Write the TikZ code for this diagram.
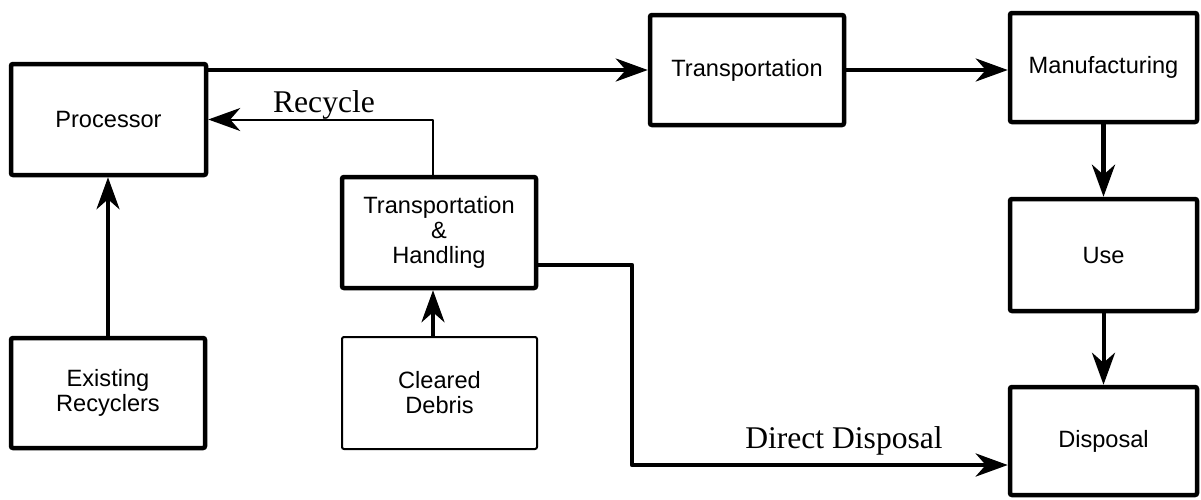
\documentclass[tikz,border=0pt]{standalone}
\usepackage{fontspec}
\setmainfont{Liberation Serif}
\setsansfont{Liberation Sans}
\usetikzlibrary{
  arrows.meta,
  positioning,
  calc
}

\begin{document}
\begin{tikzpicture}[
    x=0.5pt, y=-0.5pt,
    blk/.style={draw, line width=2.25pt, rounded corners=1pt, align=center,
                inner sep=0pt, minimum width=97pt, minimum height=55pt,
                font=\sffamily\fontsize{11.8}{12.5}\selectfont},
    lightblk/.style={blk, line width=1pt},
    colblk/.style={blk, minimum width=93.5pt},
    flow/.style={line width=2pt, line join=round,
                 -{Stealth[length=16pt, width=11.5pt, inset=5pt]}},
    heavyflow/.style={flow, line width=2.4pt},
    thinflow/.style={flow, line width=1pt},
    lbl/.style={font=\fontsize{15.8}{18}\selectfont, inner sep=0pt}
  ]
    \useasboundingbox (0,0) rectangle (1201,499);
    \node[blk, minimum width=97.5pt, minimum height=55.5pt] (proc) at (108.5,119.5) {Processor};
    \node[blk] (trans) at (747,70) {Transportation};
    \node[colblk, minimum height=54.5pt] (manu) at (1103.5,67.5) {Manufacturing};
    \node[colblk, minimum height=56pt] (use) at (1103.5,255) {Use};
    \node[colblk, minimum height=54pt] (disp) at (1103.5,441) {Disposal};
    \node[blk, minimum height=55.5pt] (th) at (439,232.5) {Transportation\\ \&\\ Handling};
    \node[blk] (exist) at (108,393) {Existing\\ Recyclers};
    \node[lightblk, minimum width=97.5pt, minimum height=56pt] (debris) at (439.5,393)
      {Cleared\\ Debris};
    \coordinate (turn) at (632,465);
    \draw[flow] (proc.east |- trans.west) -- (trans.west);
    \draw[flow] (trans.east) -- (trans.east -| manu.west);
    \draw[heavyflow] (manu.south) -- (use.north);
    \draw[flow] (use.south) -- (disp.north);
    \draw[flow] (exist.north) -- (exist.north |- proc.south);
    \draw[flow] ([xshift=-3.25pt]debris.north) -- ([xshift=-3.25pt]debris.north |- th.south);
    \draw[thinflow] ([xshift=-3pt]th.north) |- (proc.east);
    \draw[heavyflow] ([yshift=-16.25pt]th.east) -| (turn) -- (turn -| disp.west);
    \node[lbl] (rec) at (324,105) {Recycle};
    \node[lbl] (dd) at (844,441) {Direct Disposal};
  \end{tikzpicture}
\end{document}
